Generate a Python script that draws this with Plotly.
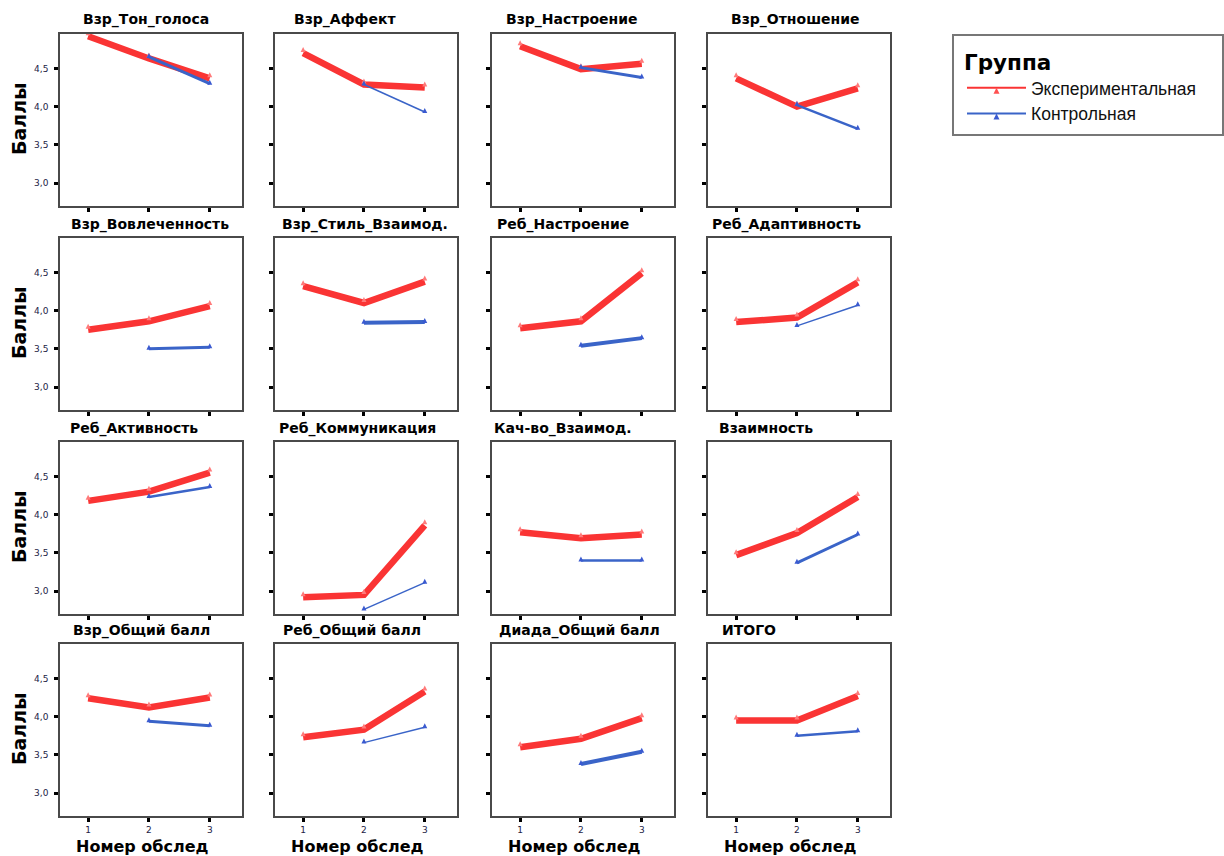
import plotly.graph_objects as go

# ---------------- data ----------------
panel_titles = [
    "Взр_Тон_голоса", "Взр_Аффект", "Взр_Настроение", "Взр_Отношение",
    "Взр_Вовлеченность", "Взр_Стиль_Взаимод.", "Реб_Настроение", "Реб_Адаптивность",
    "Реб_Активность", "Реб_Коммуникация", "Кач-во_Взаимод.", "Взаимность",
    "Взр_Общий балл", "Реб_Общий балл", "Диада_Общий балл", "ИТОГО",
]
visits_exp = [1, 2, 3]
visits_ctrl = [2, 3]
exp_values = [
    [4.92, 4.63, 4.37], [4.70, 4.29, 4.25], [4.79, 4.49, 4.56], [4.37, 4.00, 4.24],
    [3.75, 3.86, 4.06], [4.32, 4.10, 4.38], [3.77, 3.86, 4.49], [3.85, 3.91, 4.37],
    [4.18, 4.30, 4.55], [2.92, 2.95, 3.86], [3.77, 3.69, 3.74], [3.47, 3.76, 4.23],
    [4.24, 4.12, 4.25], [3.73, 3.83, 4.33], [3.60, 3.71, 3.98], [3.95, 3.95, 4.27],
]
ctrl_values = [
    [4.65, 4.30], [4.29, 3.93], [4.51, 4.38], [4.02, 3.71],
    [3.50, 3.52], [3.84, 3.85], [3.54, 3.64], [3.80, 4.07],
    [4.23, 4.36], [2.76, 3.11], [3.40, 3.40], [3.37, 3.74],
    [3.94, 3.88], [3.66, 3.86], [3.38, 3.54], [3.75, 3.81],
]
y_tick_vals = [3.0, 3.5, 4.0, 4.5]
y_tick_text = ["3,0", "3,5", "4,0", "4,5"]
x_tick_vals = [1, 2, 3]
x_tick_text = ["1", "2", "3"]
group_names = ["Экспериментальная", "Контрольная"]
legend_title = "Группа"
y_title = "Баллы"
x_title = "Номер обслед"

# ---------------- style ----------------
W, H = 1224, 856
col_left = [60, 275, 492, 708]
row_top = [34, 238, 442, 644]
pw, ph = 182, 172
red = "#FA3434"
blue = "#3A64C8"
red_width = 6.5
ctrl_widths = [3, 1.5, 3, 2.5, 3, 4, 4, 1.5, 2.5, 1.5, 2.5, 3, 3, 1.5, 4, 2.5]
title_centers = [146, 345, 572, 795, 150, 365, 563, 786,
                 134, 357, 563, 766, 141, 352, 579, 749]
font_main = "DejaVu Sans"

fig = go.Figure()
annotations = []
layout_axes = {}

for i, title in enumerate(panel_titles):
    r, c = divmod(i, 4)
    sfx = "" if i == 0 else str(i + 1)
    xa, ya = "x" + sfx, "y" + sfx
    x0 = col_left[c] / W
    x1 = (col_left[c] + pw) / W
    y1 = 1 - row_top[r] / H
    y0 = 1 - (row_top[r] + ph) / H

    fig.add_trace(go.Scatter(
        x=visits_exp, y=exp_values[i], mode="lines+markers",
        line=dict(color=red, width=red_width),
        marker=dict(symbol="arrow-down", angle=180, size=5, color="#FF7A7A", standoff=6),
        xaxis=xa, yaxis=ya, showlegend=False, hoverinfo="skip"))
    fig.add_trace(go.Scatter(
        x=visits_ctrl, y=ctrl_values[i], mode="lines+markers",
        line=dict(color=blue, width=ctrl_widths[i]),
        marker=dict(symbol="arrow-down", angle=180, size=5, color="#3A5AD0", standoff=4),
        xaxis=xa, yaxis=ya, showlegend=False, hoverinfo="skip"))

    layout_axes["xaxis" + sfx] = dict(
        domain=[x0, x1], anchor=ya, range=[0.537, 3.53],
        tickvals=x_tick_vals, ticktext=x_tick_text, showticklabels=(r == 3),
        ticks="outside", ticklen=4, tickwidth=3, tickcolor="black",
        showline=True, mirror=True, linecolor="#4a4a4a", linewidth=1.5,
        showgrid=False, zeroline=False,
        tickfont=dict(family=font_main, size=9, color="#222244"))
    layout_axes["yaxis" + sfx] = dict(
        domain=[y0, y1], anchor=xa, range=[2.70, 4.95],
        tickvals=y_tick_vals, ticktext=y_tick_text, showticklabels=(c == 0),
        ticks="outside", ticklen=4, tickwidth=3, tickcolor="black",
        ticklabelstandoff=4,
        showline=True, mirror=True, linecolor="#4a4a4a", linewidth=1.5,
        showgrid=False, zeroline=False,
        tickfont=dict(family=font_main, size=9, color="#222244"))

    annotations.append(dict(
        text="<b>%s</b>" % title, xref="paper", yref="paper",
        x=title_centers[i] / W, y=1 - (row_top[r] - 14) / H,
        xanchor="center", yanchor="middle", showarrow=False,
        font=dict(family=font_main, size=14, color="black")))

    if c == 0:
        annotations.append(dict(
            text="<b>%s</b>" % y_title, xref="paper", yref="paper",
            x=19 / W, y=1 - (row_top[r] + ph / 2 - 1) / H, textangle=-90,
            xanchor="center", yanchor="middle", showarrow=False,
            font=dict(family=font_main, size=19, color="black")))
    if r == 3:
        annotations.append(dict(
            text="<b>%s</b>" % x_title, xref="paper", yref="paper",
            x=(col_left[c] + 82) / W, y=1 - 846 / H,
            xanchor="center", yanchor="middle", showarrow=False,
            font=dict(family=font_main, size=16, color="black")))

# legend entries
for name, col, mcol in [(group_names[0], red, "#FF5050"), (group_names[1], blue, "#3A5AD0")]:
    fig.add_trace(go.Scatter(
        x=[None], y=[None], mode="lines+markers", name=name,
        line=dict(color=col, width=2),
        marker=dict(symbol="arrow-up", size=6, color=mcol),
        showlegend=True, xaxis="x", yaxis="y"))

fig.update_layout(
    width=W, height=H, margin=dict(l=0, r=0, t=0, b=0),
    paper_bgcolor="white", plot_bgcolor="white",
    annotations=annotations,
    legend=dict(
        x=962 / W, y=1 - 42 / H, xanchor="left", yanchor="top",
        bgcolor="rgba(0,0,0,0)", borderwidth=0, itemwidth=59,
        title=dict(text="<b>%s</b>" % legend_title,
                   font=dict(family=font_main, size=21.5, color="black")),
        font=dict(family="Liberation Sans", size=17.5, color="#111111"),
        tracegroupgap=0),
    shapes=[dict(type="rect", xref="paper", yref="paper",
                 x0=953 / W, x1=1223 / W, y0=1 - 135 / H, y1=1 - 35 / H,
                 line=dict(color="#777777", width=2))],
    **layout_axes)

fig.write_html("out.html", config={"displayModeBar": False},
               post_script="document.body.style.margin='0px';")
